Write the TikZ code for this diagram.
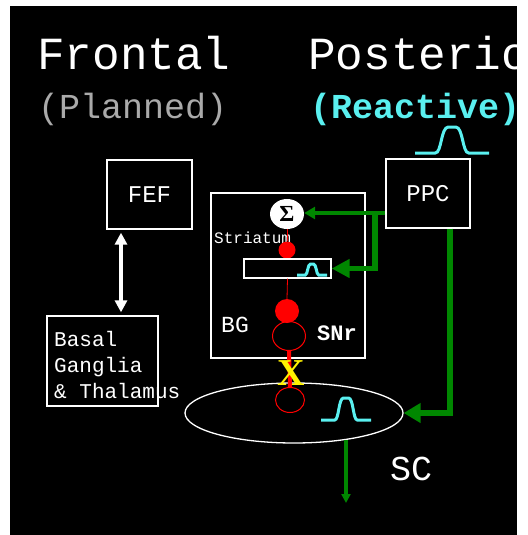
\documentclass[tikz,border=0pt]{standalone}
\usepackage{fontspec}
\setmainfont{Liberation Serif}
\setmonofont{Liberation Mono}
\usetikzlibrary{arrows.meta,shapes.geometric,positioning}
\definecolor{SCGreen}{RGB}{0,135,0}
\definecolor{BumpCyan}{RGB}{90,240,240}
\definecolor{LabelGray}{RGB}{170,170,170}

\begin{document}
\begin{tikzpicture}[x=1pt,y=-1pt,
    box/.style={draw=white,line width=1.3pt,inner sep=0pt,text=white,
                font=\ttfamily\fontsize{24}{24}\selectfont},
    lbl/.style={text=white,inner sep=0pt,anchor=base west,
                font=\ttfamily\fontsize{#1}{#1}\selectfont},
    blbl/.style={lbl,font=\ttfamily\bfseries\fontsize{#1}{#1}\selectfont},
    dot/.style={circle,fill=red,inner sep=0pt,minimum size=#1},
    ring/.style={ellipse,draw=red,line width=1pt,inner sep=0pt},
    garr/.style={draw=SCGreen,line width=#1},
    bumpline/.style={draw=BumpCyan,line width=3pt},
    bump/.pic={\draw[bumpline] (-1,0) -- (-0.45,0)
        .. controls (-0.28,0) and (-0.3,-1) .. (-0.1,-1) -- (0.1,-1)
        .. controls (0.3,-1) and (0.28,0) .. (0.45,0) -- (1,0);}
  ]
  \useasboundingbox (0,0) rectangle (527,535);
  \fill[black] (10,6) rectangle (517,535);
  \begin{scope}
  \clip (10,6) rectangle (517,535);

  % headings
  \node[lbl=46] (front) at (37,70) {Frontal};
  \node[lbl=46] (post) at (308,70) {Posterior};
  \node[lbl=35,text=LabelGray] (plan) at (38,118) {(Planned)};
  \node[blbl=35,text=BumpCyan] (react) at (310,118) {(Reactive)};
  \pic[xscale=37,yscale=26] at (452,153) {bump};

  % cortex
  \node[box,minimum width=85pt,minimum height=69pt] (fef) at (149.5,194.5) {FEF};
  \node[box,minimum width=84pt,minimum height=69pt] (ppc) at (428,193.5) {PPC};
  \node[box,minimum width=111pt,minimum height=90pt] (bgt) at (102.5,361) {};
  \node[text=white,inner sep=0pt,anchor=north west,align=left,
        font=\ttfamily\fontsize{21}{26}\selectfont] (bgttxt) at (54,331)
        {Basal\\Ganglia\\\& Thalamus};
  \draw[white,line width=4pt,
        {Triangle[length=12pt,width=12pt]}-{Triangle[length=12pt,width=12pt]},
        shorten >=3pt,shorten <=3pt]
        ([xshift=-28.5pt]fef.south) -- ([xshift=-28.5pt]fef.south |- bgt.north);

  % basal ganglia
  \node[box,minimum width=154pt,minimum height=165pt] (bg) at (288,275.5) {};
  \node[ellipse,fill=white,inner sep=0pt,minimum width=34pt,minimum height=30pt,
        font=\bfseries\fontsize{23}{23}\selectfont] (sig) at (287,214) {Σ};
  \node[lbl=16] (str) at (214,243) {Striatum};
  \node[dot=17pt] (d1) at (287,250) {};
  \node[box,minimum width=87pt,minimum height=19pt] (map) at (287.5,268.5) {};
  \pic[xscale=15,yscale=11] at (312,275) {bump};
  \node[dot=24pt] (d2) at (287,311) {};
  \node[ring,minimum width=33pt,minimum height=29pt] (r1) at (289,336) {};
  \node[lbl=23] (bglbl) at (221,332) {BG};
  \node[blbl=22] (snr) at (317,340) {SNr};
  \draw[red,line width=0.8pt] (sig.south) -- (d1.north);
  \draw[red,line width=0.8pt] (map.south) -- (d2.north);

  % superior colliculus
  \node[ellipse,draw=white,line width=1.3pt,inner sep=0pt,
        minimum width=218pt,minimum height=60pt] (sc) at (294,413) {};
  \node[ring,minimum width=29pt,minimum height=25pt] (r2) at (290,400) {};
  \pic[xscale=25,yscale=22] at (346,420) {bump};
  \draw[red,line width=4pt] (r1.south) -- (r2.north);
  \node[text=yellow,inner sep=0pt,font=\bfseries\fontsize{38}{38}\selectfont] (cut) at (291,373) {X};
  \node[lbl=35] (sclbl) at (390,480) {SC};

  % green pathways
  \coordinate (split) at (375,213);
  \coordinate (out) at (346,503);
  \draw[garr=3.5pt,-{Triangle[length=11pt,width=12pt]}] (ppc.west |- split) -- (sig.east |- split);
  \draw[garr=5.5pt,-{Triangle[length=18pt,width=18pt]}] (split) |- (map.east);
  \draw[garr=6.5pt,-{Triangle[length=17pt,width=19pt]}] ([xshift=22pt]ppc.south) |- (sc.east);
  \draw[garr=3.5pt,-{Triangle[length=9pt,width=9pt]}] (out |- sc.-27) -- (out);
  \end{scope}
\end{tikzpicture}
\end{document}
